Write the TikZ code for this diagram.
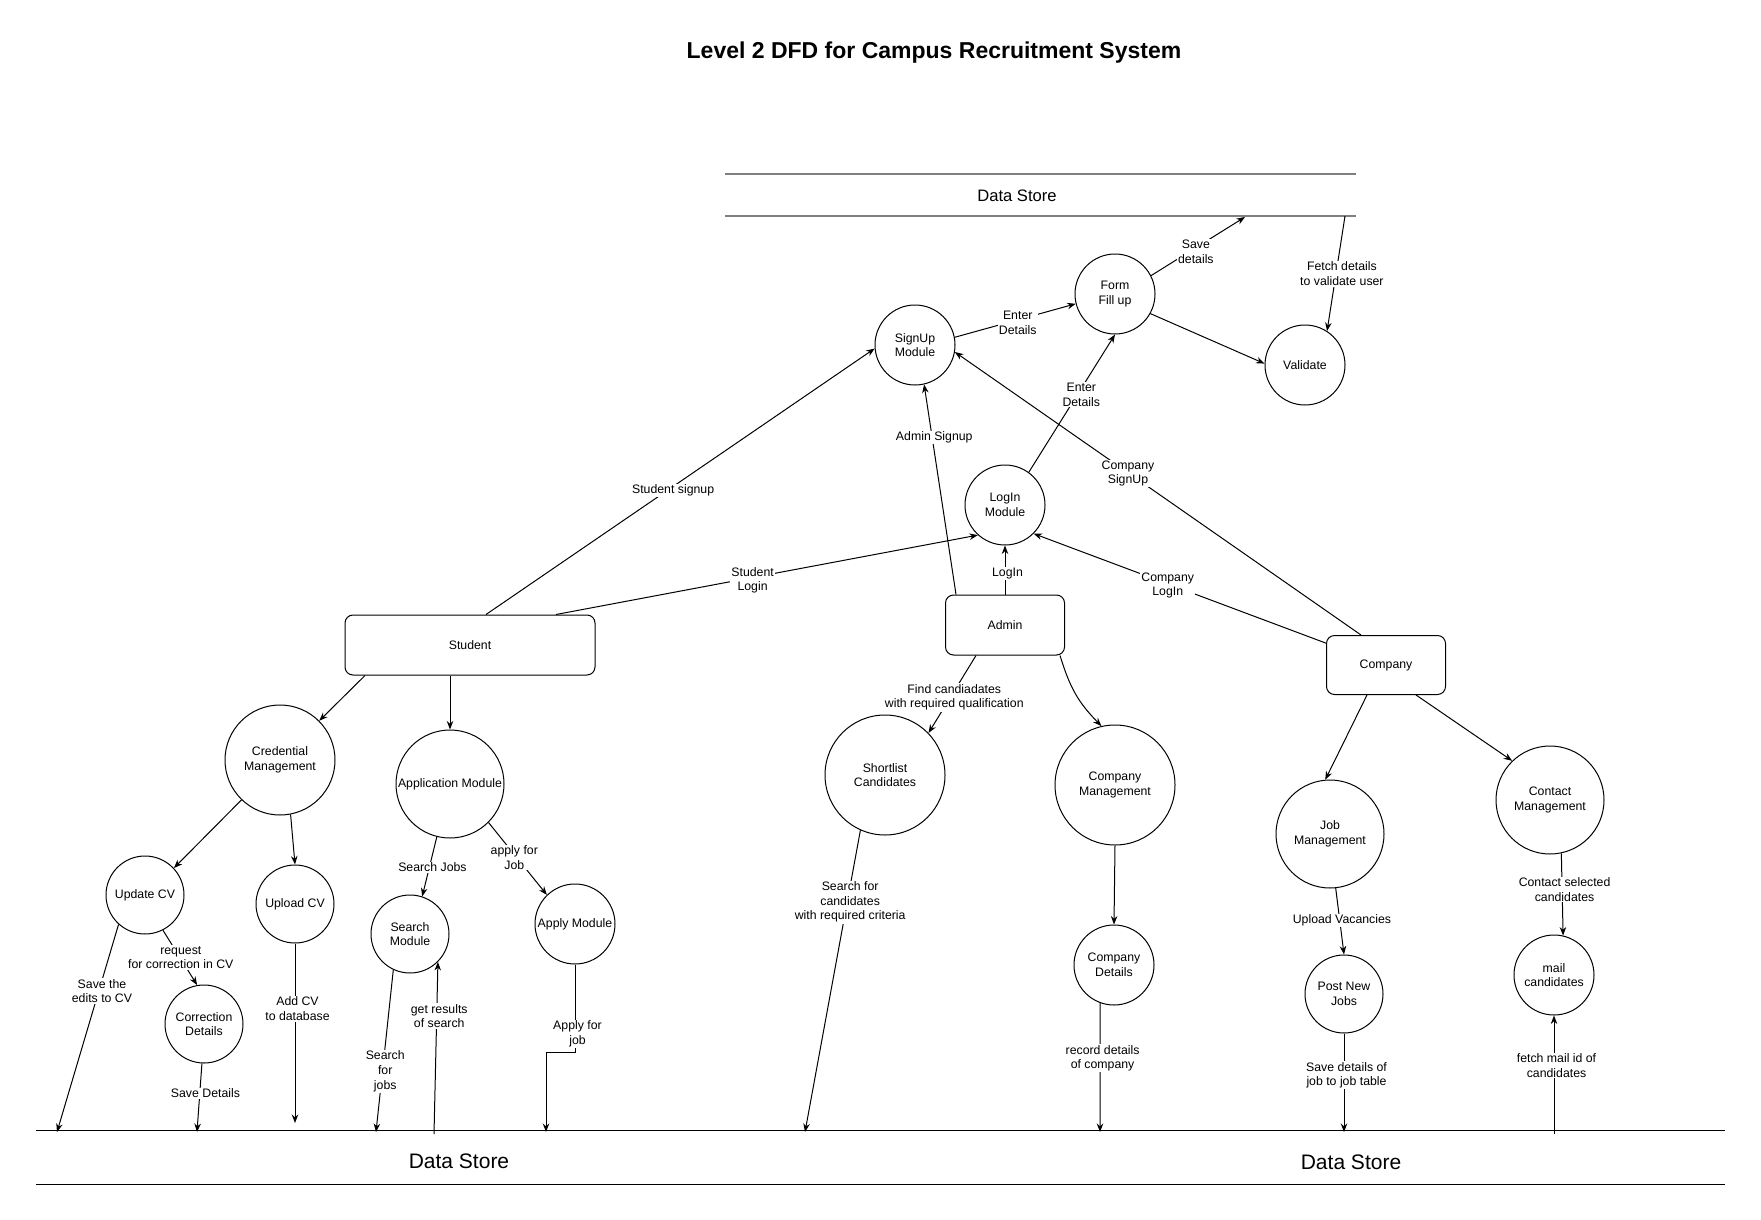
\documentclass[tikz,border=0pt]{standalone}
\usepackage{fontspec}
\setmainfont{Liberation Sans}
\usetikzlibrary{arrows.meta}
\begin{document}
\begin{tikzpicture}[x=1pt,y=-1pt,
  txt/.style={font=\fontsize{12.3}{14.6}\selectfont},
  proc/.style={circle,draw,line width=1pt,align=center,inner sep=0pt,txt},
  ent/.style={rectangle,rounded corners=8pt,draw,line width=1pt,align=center,inner sep=0pt,txt},
  lbl/.style={fill=white,align=center,inner sep=1pt,xshift=2.5pt,yshift=-2.5pt,txt},
  arr/.style={line width=1pt,-{Stealth[length=8.5pt,width=6.5pt]}},
  ln/.style={line width=1pt},
  dsline/.style={line width=1.7pt,black!50}]
\fill[white] (0,0) rectangle (1761,1220);
\useasboundingbox (0,0) rectangle (1761,1220);

% title
\node[font=\fontsize{23}{27}\selectfont\bfseries] (title) at (934,53) {Level 2 DFD for Campus Recruitment System};

% top data store
\coordinate (dsTa) at (725,174);
\coordinate (dsTb) at (1356,174);
\coordinate (dsTc) at (725,216);
\coordinate (dsTd) at (1356,216);
\draw[dsline] (dsTa) -- (dsTb);
\draw[dsline] (dsTc) -- (dsTd);
\node[font=\fontsize{16.6}{20}\selectfont] (dsTtext) at (1017,196) {Data Store};

% bottom data store
\coordinate (dsBa) at (36,1130);
\coordinate (dsBb) at (1725,1130);
\coordinate (dsBc) at (36,1184);
\coordinate (dsBd) at (1725,1184);
\draw[ln] (dsBa) -- (dsBb);
\draw[ln] (dsBc) -- (dsBd);
\node[font=\fontsize{21}{25}\selectfont] (dsBtext1) at (459,1161) {Data Store};
\node[font=\fontsize{21}{25}\selectfont] (dsBtext2) at (1351,1162) {Data Store};

% nodes
\node[proc,minimum size=80pt] (su) at (915,345) {SignUp\\Module};
\node[proc,minimum size=80pt] (ff) at (1115,294) {Form\\Fill up};
\node[proc,minimum size=80pt] (val) at (1305,365) {Validate};
\node[proc,minimum size=80pt] (li) at (1005,505) {LogIn\\Module};
\node[ent,minimum width=250pt,minimum height=60pt] (stu) at (470,645) {Student};
\node[ent,minimum width=119pt,minimum height=60pt] (adm) at (1005,625) {Admin};
\node[ent,minimum width=119pt,minimum height=59pt] (com) at (1386,665) {Company};
\node[proc,minimum size=110pt] (cm) at (280,760) {Credential\\Management};
\node[proc,minimum size=108pt] (am) at (450,784) {Application Module};
\node[proc,minimum size=78pt] (ucv) at (145,895) {Update CV};
\node[proc,minimum size=78pt] (upcv) at (295,904) {Upload CV};
\node[proc,minimum size=78pt] (cd) at (204,1024) {Correction\\Details};
\node[proc,minimum size=78pt] (sm) at (410,934) {Search\\Module};
\node[proc,minimum size=80pt] (apm) at (575,924) {Apply Module};
\node[proc,minimum size=120pt] (sc) at (885,775) {Shortlist\\Candidates};
\node[proc,minimum size=120pt] (cmg) at (1115,785) {Company\\Management};
\node[proc,minimum size=80pt] (cdt) at (1114,965) {Company\\Details};
\node[proc,minimum size=108pt] (jm) at (1330,834) {Job\\Management};
\node[proc,minimum size=108pt] (ctm) at (1550,800) {Contact\\Management};
\node[proc,minimum size=78pt] (pnj) at (1344,994) {Post New\\Jobs};
\node[proc,minimum size=80pt] (mc) at (1554,975) {mail\\candidates};

% connector end points on data stores
\coordinate (eSave) at (1245,217);
\coordinate (eFetch) at (1345,216);
\coordinate (eUcv) at (57,1132);
\coordinate (eCd) at (197,1132);
\coordinate (eUp) at (295,1123);
\coordinate (eSm) at (376,1132);
\coordinate (sGet) at (434,1134);
\coordinate (eAp) at (546,1132);
\coordinate (eSc) at (805,1132);
\coordinate (eCdt) at (1100,1132);
\coordinate (ePnj) at (1344,1132);
\coordinate (sMail) at (1554,1134);

% connectors (top part)
\draw[arr] ([xshift=16]stu.north) -- node[lbl,pos=0.475]{Student signup} (su.185);
\draw[arr] ([xshift=86]stu.north) -- node[lbl,pos=0.46]{Student\\Login} (li.228);
\draw[arr] ([xshift=-49]adm.north) -- node[lbl,pos=0.76]{Admin Signup} (su.283);
\draw[arr] (adm.north) -- node[lbl,pos=0.48]{LogIn} (li.south);
\draw[arr] (li.54) -- node[lbl,pos=0.58]{Enter\\Details} (ff.south);
\draw[arr] (su.11) -- node[lbl,pos=0.5]{Enter\\Details} (ff.194);
\draw[arr] (ff.27) -- node[lbl,pos=0.45]{Save\\details} (eSave);
\draw[arr] (ff.331) -- (val.178);
\draw[arr] (eFetch) -- node[lbl,pos=0.48,xshift=3pt]{Fetch details\\to validate user} (val.57);
\draw[arr] ([xshift=-25]com.north) -- node[lbl,pos=0.58]{Company\\SignUp} (su.350);
\draw[arr] (com.160) -- node[lbl,pos=0.55]{Company\\LogIn} (li.315);

% student side
\draw[arr] ([xshift=-105]stu.south) -- (cm.45);
\draw[arr] ([xshift=-20]stu.south) -- (am.north);
\draw[arr] (cm.226) -- (ucv.43);
\draw[arr] (cm.281) -- (upcv.north);
\draw[arr] (ucv.228) -- node[lbl,pos=0.31]{Save the\\edits to CV} (eUcv);
\draw[arr] (ucv.297) -- node[lbl,pos=0.45]{request\\for correction in CV} (cd.100);
\draw[arr] (cd.267) -- node[lbl,pos=0.4,xshift=3pt]{Save Details} (eCd);
\draw[arr] (upcv.south) -- node[lbl,pos=0.35]{Add CV\\to database} (eUp);
\draw[arr] (am.256) -- node[lbl,pos=0.47]{Search Jobs} (sm.72);
\draw[arr] (am.315) -- node[lbl,pos=0.45,xshift=-3pt]{apply for\\Job} (apm.134);
\draw[arr] (sm.245) -- node[lbl,pos=0.61]{Search\\for\\jobs} (eSm);
\draw[arr] (sGet) -- node[lbl,pos=0.7]{get results\\of search} (sm.315);
\draw[arr] (apm.south) -- node[lbl,pos=0.76]{Apply for\\job} ++(0,88) -| (eAp);

% admin side
\draw[arr] ([xshift=-29]adm.south) -- node[lbl,pos=0.51]{Find candiadates\\with required qualification} (sc.44);
\draw[arr] ([xshift=55]adm.south) .. controls (1070,688) and (1078,702) .. (cmg.103);
\draw[arr] (sc.246) -- node[lbl,pos=0.23]{Search for\\candidates\\with required criteria} (eSc);
\draw[arr] (cmg.south) -- (cdt.north);
\draw[arr] (cdt.250) -- node[lbl,pos=0.41]{record details\\of company} (eCdt);

% company side
\draw[arr] ([xshift=-19]com.south) -- (jm.95);
\draw[arr] ([xshift=30]com.south) -- (ctm.134);
\draw[arr] (jm.276) -- node[lbl,pos=0.45]{Upload Vacancies} (pnj.north);
\draw[arr] (pnj.south) -- node[lbl,pos=0.4]{Save details of\\job to job table} (ePnj);
\draw[arr] (ctm.282) -- node[lbl,pos=0.41]{Contact selected\\candidates} (mc.77);
\draw[arr] (sMail) -- node[lbl,pos=0.6]{fetch mail id of\\candidates} (mc.south);
\end{tikzpicture}
\end{document}
